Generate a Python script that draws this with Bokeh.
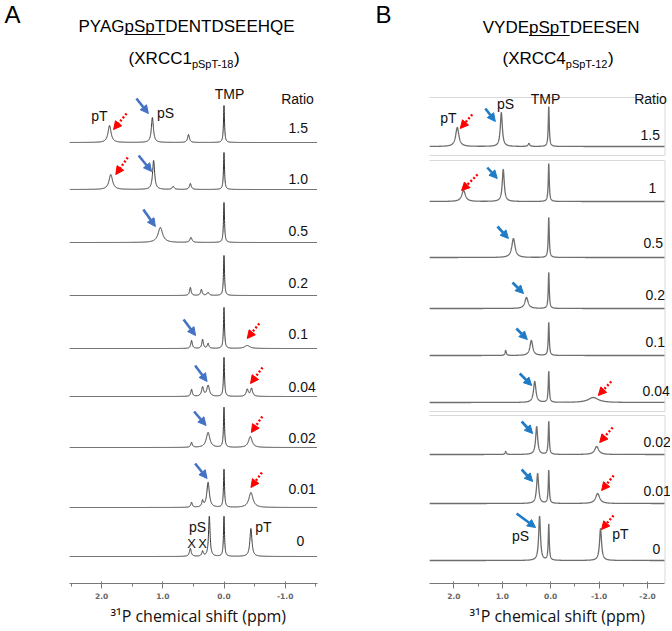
import numpy as np
from bokeh.plotting import figure
from bokeh.models import (Label, Arrow, NormalHead, FixedTicker, PrintfTickFormatter,
                          Range1d, ColumnDataSource, Title)
from bokeh.layouts import row
from bokeh.embed import file_html
from bokeh.resources import INLINE

# ======================= DATA =======================
# Panel A : XRCC1 pSpT-18
RATIOS_A = ["1.5", "1.0", "0.5", "0.2", "0.1", "0.04", "0.02", "0.01", "0"]
TMP_A_PPM = 0.0
TMP_A_H = [37, 37, 40, 40, 41, 39, 40, 38, 40]
TMP_A_W = 0.02
PS_A_PPM = [1.17, 1.15, 1.04, None, 0.35, 0.26, 0.26, 0.26, 0.24]
PS_A_H = [25, 29, 15, 0, 9, 11, 15, 25, 40]
PS_A_W = [0.04, 0.04, 0.09, 0.04, 0.03, 0.05, 0.07, 0.05, 0.03]
PT_A_PPM = [1.87, 1.85, None, None, -0.38, -0.45, -0.43, -0.44, -0.44]
PT_A_H = [17, 15, 0, 0, 3, 8, 11, 15, 28]
PT_A_W = [0.06, 0.07, 0.06, 0.06, 0.10, 0.04, 0.07, 0.08, 0.04]
OTHER_A = [
    [(0.58, 8, 0.035)],
    [(0.55, 6, 0.035), (0.83, 3, 0.04)],
    [(0.54, 5, 0.04)],
    [(0.55, 8, 0.03), (0.37, 6, 0.03), (0.26, 3, 0.04)],
    [(0.53, 8, 0.03), (0.26, 5, 0.03)],
    [(0.53, 7, 0.03), (0.35, 9, 0.04), (-0.38, 7, 0.04)],
    [(0.53, 5, 0.03)],
    [(0.53, 5, 0.03), (0.35, 6, 0.03)],
    [(0.55, 8, 0.035), (0.35, 5, 0.03)],
]
TICKS_A = [2.0, 1.0, 0.0, -1.0]
MINOR_TICKS_A = [2.5, 1.5, 0.5, -0.5, -1.5]

# Panel B : XRCC4 pSpT-12
RATIOS_B = ["1.5", "1", "0.5", "0.2", "0.1", "0.04", "0.02", "0.01", "0"]
TMP_B_PPM = 0.04
TMP_B_H = [40, 38, 40, 36, 33, 31, 33, 33, 36]
TMP_B_W = 0.025
PS_B_PPM = [1.02, 0.98, 0.77, 0.50, 0.40, 0.33, 0.29, 0.27, 0.23]
PS_B_H = [34, 32, 19, 11, 15, 21, 28, 30, 44]
PS_B_W = [0.05, 0.05, 0.08, 0.08, 0.07, 0.06, 0.05, 0.05, 0.045]
PT_B_PPM = [1.93, 1.80, None, None, None, -0.88, -0.95, -0.97, -1.03]
PT_B_H = [19, 11, 0, 0, 0, 5, 8, 10, 32]
PT_B_W = [0.08, 0.09, 0.08, 0.08, 0.08, 0.25, 0.10, 0.10, 0.05]
OTHER_B = [
    [(0.45, 3, 0.04)],
    [],
    [],
    [],
    [(0.93, 5, 0.03)],
    [],
    [(0.93, 3, 0.03)],
    [],
    [],
]
TICKS_B = [2.0, 1.0, 0.0, -1.0, -2.0]
MINOR_TICKS_B = [1.5, 0.5, -0.5, -1.5]
X_LABEL = "\u00b3\u00b9P chemical shift (ppm)"

# ======================= LAYOUT =======================
FIG_H = 631
BORDER_BOTTOM = 48
FRAME_BOTTOM = FIG_H - BORDER_BOTTOM   # page y of the axis line (583)
FONT = "Liberation Sans"

PANELS = [
    dict(left=0, width=336, x0=223.5, scale=61.2, span=(2.52, -1.52),
         ratios=RATIOS_A, tmp_ppm=TMP_A_PPM, tmp_h=TMP_A_H, tmp_w=TMP_A_W,
         ps_ppm=PS_A_PPM, ps_h=PS_A_H, ps_w=PS_A_W,
         pt_ppm=PT_A_PPM, pt_h=PT_A_H, pt_w=PT_A_W, other=OTHER_A,
         ticks=TICKS_A, minor=MINOR_TICKS_A,
         base_y=[142, 189, 242, 295, 348, 396, 447, 507, 556],
         line_color="#333333", line_width=1.0,
         ratio_x=[288, 288, 288, 288, 288, 288, 288, 288, 296],
         ratio_y=[132, 183, 235, 287, 338, 391, 442, 493, 545],
         letter=("A", 4, 22),
         title=("PYAG", "pSpT", "DENTDSEEHQE", 124.0, 164.7, 32),
         sub=("(XRCC1", "pSpT-18", ")", 191.4, 233.5, 64),
         top_labels=[("pT", 99, 120), ("pS", 165, 117), ("TMP", 229, 98), ("Ratio", 297, 103)],
         bottom_labels=[("pS", 197, 531), ("pT", 263, 531)],
         x_marks=[(191, 548), (202, 548)],
         xlabel_left=110,
         blue="#4472C4",
         arrows=[  # (row, peak, tip offset from apex px, tail vector px, colour key)
             (0, "pS", -4, -4, -12, -15, "b"), (1, "pS", -2, 11, -13, -16, "b"),
             (2, "pS", -5, -1, -12, -17, "b"), (4, "pS", -7, -4, -12, -16, "b"),
             (5, "pS", -1, -4, -12, -16, "b"), (6, "pS", -2, -7, -12, -14, "b"),
             (7, "pS", -1, -4, -12, -15, "b"),
             (0, "pT", 4, 4, 13, -16, "r"), (1, "pT", 5, 0, 12, -17, "r"),
             (4, "pT", 0, -7, 12, -15, "r"), (5, "pT", -1, -5, 12, -16, "r"),
             (6, "pT", 1, -4, 11, -16, "r"), (7, "pT", 0, -5, 11, -15, "r"),
         ],
         boxes=[]),
    dict(left=336, width=334, x0=550.2, scale=48.4, span=(2.5, -2.35),
         ratios=RATIOS_B, tmp_ppm=TMP_B_PPM, tmp_h=TMP_B_H, tmp_w=TMP_B_W,
         ps_ppm=PS_B_PPM, ps_h=PS_B_H, ps_w=PS_B_W,
         pt_ppm=PT_B_PPM, pt_h=PT_B_H, pt_w=PT_B_W, other=OTHER_B,
         ticks=TICKS_B, minor=MINOR_TICKS_B,
         base_y=[146, 201, 257, 308, 355, 402, 454, 503, 560],
         line_color="#6e6e6e", line_width=1.3,
         ratio_x=[640, 648, 643, 645, 645, 642, 643, 643, 652],
         ratio_y=[139, 192, 247, 299, 346, 395, 446, 495, 553],
         letter=("B", 375, 22),
         title=("VYDE", "pSpT", "DEESEN", 528.5, 569.2, 33),
         sub=("(XRCC4", "pSpT-12", ")", 565.3, 607.5, 64),
         top_labels=[("pT", 448, 122), ("pS", 505, 108), ("TMP", 545, 103), ("Ratio", 650, 103)],
         bottom_labels=[("pS", 520, 540), ("pT", 620, 538)],
         x_marks=[],
         xlabel_left=469,
         blue="#1F7BC6",
         arrows=[
             (0, "pS", -6, 9, -10, -13, "b"), (1, "pS", -6, 9, -10, -11, "b"),
             (2, "pS", -5, 0, -11, -12, "b"), (3, "pS", -3, -4, -11, -11, "b"),
             (4, "pS", -4, -1, -11, -11, "b"), (5, "pS", -3, 4, -12, -12, "b"),
             (6, "pS", -4, 7, -11, -12, "b"), (7, "pS", -5, 8, -11, -12, "b"),
             (8, "pS", -4, 11, -19, -14, "b"),
             (0, "pT", 3, 1, 12, -14, "r"), (1, "pT", -2, 0, 16, -16, "r"),
             (5, "pT", 5, -2, 13, -14, "r"), (6, "pT", 3, -4, 13, -15, "r"),
             (7, "pT", 4, -3, 12, -15, "r"), (8, "pT", 1, 1, 12, -14, "r"),
         ],
         boxes=[(97, 155), (160, 411), (415, 602)]),
]


def lorentz_sum(x, peaks):
    y = np.zeros_like(x)
    for c, h, w in peaks:
        y += h / (1.0 + ((x - c) / (w / 2.0)) ** 2)
    return y


def build(cfg):
    x0, sc, left, wid = cfg["x0"], cfg["scale"], cfg["left"], cfg["width"]

    def X(px):
        return (x0 - px) / sc

    def Y(py):
        return FRAME_BOTTOM - py

    p = figure(width=wid, height=FIG_H,
               x_range=Range1d(X(left), X(left + wid)),
               y_range=Range1d(0, FIG_H - BORDER_BOTTOM),
               y_axis_location=None, toolbar_location=None, output_backend="svg",
               min_border_left=0, min_border_right=0, min_border_top=0,
               min_border_bottom=BORDER_BOTTOM)
    p.grid.visible = False
    p.outline_line_color = None
    p.background_fill_color = "white"
    p.border_fill_color = "white"

    # boxes (panel B image frames)
    for (t, b) in cfg["boxes"]:
        xl, xr = X(429), X(664.5)
        p.segment(x0=[xl, xl, xr], y0=[Y(t), Y(b), Y(t)], x1=[xr, xr, xr],
                  y1=[Y(t), Y(b), max(Y(b), 0)], line_color="#d9d9d9", line_width=1)

    # spectra
    xs = np.linspace(cfg["span"][0], cfg["span"][1], 2600)
    apex = {}
    for i in range(len(cfg["ratios"])):
        peaks = [(cfg["tmp_ppm"], cfg["tmp_h"][i], cfg["tmp_w"])]
        if cfg["ps_ppm"][i] is not None:
            peaks.append((cfg["ps_ppm"][i], cfg["ps_h"][i], cfg["ps_w"][i]))
            apex[(i, "pS")] = (cfg["ps_ppm"][i], cfg["ps_h"][i])
        if cfg["pt_ppm"][i] is not None:
            peaks.append((cfg["pt_ppm"][i], cfg["pt_h"][i], cfg["pt_w"][i]))
            apex[(i, "pT")] = (cfg["pt_ppm"][i], cfg["pt_h"][i])
        peaks += cfg["other"][i]
        base = Y(cfg["base_y"][i])
        src = ColumnDataSource(dict(x=xs, y=base + lorentz_sum(xs, peaks)))
        p.line("x", "y", source=src, line_color=cfg["line_color"], line_width=cfg["line_width"])

    def lab(text, px, py, size=14, align="center", color="#111111", font=FONT):
        # py is the alphabetic baseline (page px); place via the middle of the em box
        p.add_layout(Label(x=X(px), y=Y(py - 0.35 * size), text=text, text_font=font,
                           text_font_size=f"{size}px", text_color=color,
                           text_align=align, text_baseline="middle"))

    for i, r in enumerate(cfg["ratios"]):
        lab(r, cfg["ratio_x"][i], cfg["ratio_y"][i], align="left")

    # arrows
    for (r, key, dx, dy, tx, ty, col) in cfg["arrows"]:
        ppm, h = apex[(r, key)]
        tip_x = ppm - dx / sc
        tip_y = Y(cfg["base_y"][r]) + h - dy
        tail_x = tip_x - tx / sc
        tail_y = tip_y - ty
        if col == "b":
            colour = cfg["blue"]
            p.add_layout(Arrow(x_start=tail_x, y_start=tail_y, x_end=tip_x, y_end=tip_y,
                               line_color=colour, line_width=2.6,
                               end=NormalHead(size=8, fill_color=colour, line_color=colour, line_width=1)))
        else:
            colour = "#FF0000"
            p.add_layout(Arrow(x_start=tail_x, y_start=tail_y, x_end=tip_x, y_end=tip_y,
                               line_color=colour, line_width=2.4, line_dash="2 2",
                               end=NormalHead(size=8, fill_color=colour, line_color=colour, line_width=1)))

    for (t, px, py) in cfg["top_labels"] + cfg["bottom_labels"]:
        lab(t, px, py)
    for (px, py) in cfg["x_marks"]:
        lab("X", px, py, size=13)

    # panel letter
    L, lx, ly = cfg["letter"]
    lab(L, lx, ly, size=24, align="left", color="#000000")

    # title with underlined pSpT
    a, b_, c, ux0, ux1, ty = cfg["title"]
    lab(a, ux0, ty, size=17, align="right", color="#000000")
    lab(b_, ux0, ty, size=17, align="left", color="#000000")
    lab(c, ux1, ty, size=17, align="left", color="#000000")
    p.segment(x0=[X(ux0)], y0=[Y(ty + 2)], x1=[X(ux1)], y1=[Y(ty + 2)],
              line_color="#000000", line_width=1.2)

    # subtitle with subscript
    s0, s1, s2, sx0, sx1, sy = cfg["sub"]
    lab(s0, sx0, sy, size=17, align="right", color="#000000")
    lab(s1, sx0, sy + 3, size=11, align="left", color="#000000")
    lab(s2, sx1, sy, size=17, align="left", color="#000000")

    # axis styling
    ax = p.xaxis[0]
    ax.ticker = FixedTicker(ticks=cfg["ticks"], minor_ticks=cfg["minor"])
    ax.formatter = PrintfTickFormatter(format="%.1f")
    ax.bounds = (min(cfg["span"]), max(cfg["span"]))
    ax.axis_line_color = "#777777"
    ax.major_tick_line_color = "#777777"
    ax.minor_tick_line_color = "#777777"
    ax.major_tick_in = 2
    ax.major_tick_out = 5
    ax.minor_tick_in = 0
    ax.minor_tick_out = 3
    ax.major_label_text_font = "DejaVu Sans"
    ax.major_label_text_font_style = "bold"
    ax.major_label_text_font_size = "7.5px"
    ax.major_label_text_color = "#666666"
    ax.major_label_standoff = 4

    # x axis label, placed below the axis as a left-aligned title panel
    p.add_layout(Title(text=X_LABEL, align="left", offset=cfg["xlabel_left"] - left,
                       text_font="Open Sans", text_font_size="16px",
                       text_font_style="normal", text_color="#111111",
                       vertical_align="top", standoff=6), "below")
    return p


figs = [build(c) for c in PANELS]
layout = row(*figs)
open("out.html", "w").write(file_html(layout, INLINE))
